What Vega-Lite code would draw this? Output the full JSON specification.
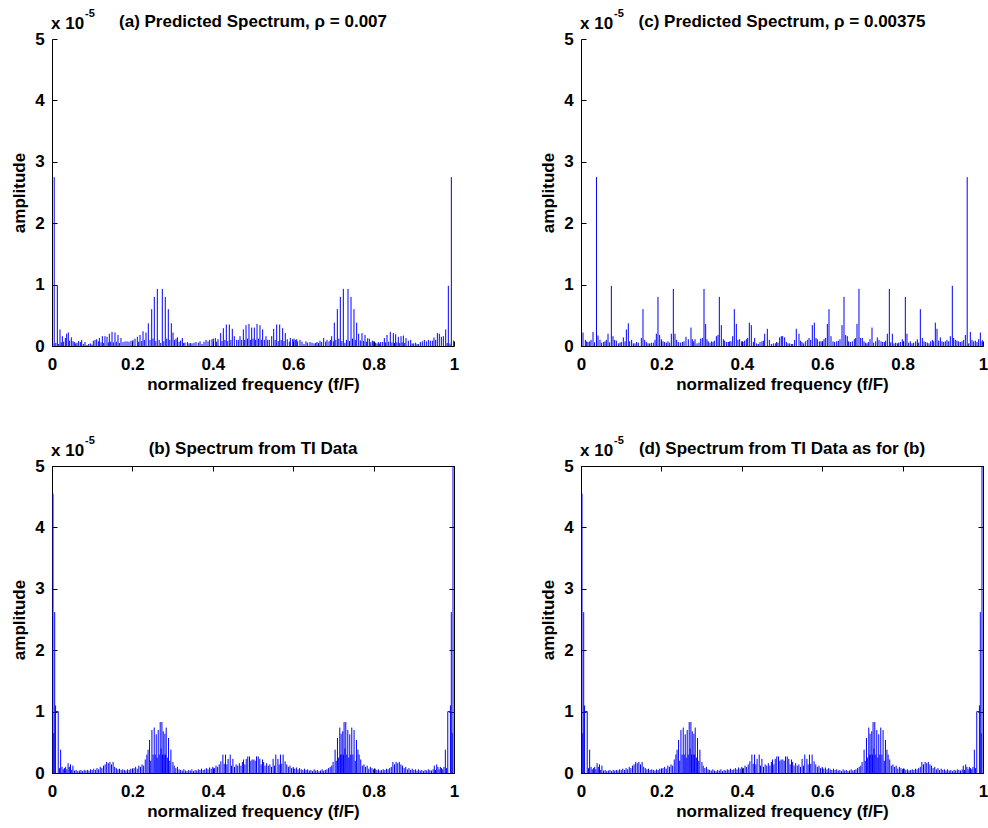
{
  "$schema": "https://vega.github.io/schema/vega-lite/v6.json",
  "background": "white",
  "padding": {"left": 10, "top": 8, "right": 0, "bottom": 5},
  "columns": 2,
  "spacing": {"row": 42, "column": 80},
  "config": {
    "font": "Liberation Sans",
    "view": {"stroke": null},
    "axis": {
      "domainColor": "#000000", "domainWidth": 1, "tickColor": "#000000", "tickWidth": 1, "tickSize": -5,
      "grid": false, "labelFontSize": 17, "labelFontWeight": "bold", "labelColor": "#000000",
      "titleFontSize": 17, "titleFontWeight": "bold", "titleColor": "#000000",
      "labelFlush": false, "labelOverlap": false
    },
    "axisX": {"labelPadding": 15.5, "titlePadding": 4},
    "axisY": {"labelPadding": 12.7, "titlePadding": 6},
    "title": {"fontSize": 17, "fontWeight": "bold", "color": "#000000", "anchor": "middle", "frame": "group", "baseline": "alphabetic", "offset": -23}
  },
  "datasets": {
    "a": [
{"f":0.002,"a":0.04},{"f":0.0055,"a":2.75},{"f":0.0095,"a":0.05},{"f":0.0133,"a":0.98},{"f":0.0166,"a":0.033},{"f":0.0199,"a":0.27},{"f":0.023,"a":0.06},{"f":0.0257,"a":0.16},{"f":0.029,"a":0.07},{"f":0.0332,"a":0.13},{"f":0.0365,"a":0.2},{"f":0.0406,"a":0.22},{"f":0.0439,"a":0.087},{"f":0.0481,"a":0.14},{"f":0.0522,"a":0.08},{"f":0.0555,"a":0.065},{"f":0.0589,"a":0.043},{"f":0.0622,"a":0.054},{"f":0.0663,"a":0.08},{"f":0.0705,"a":0.065},{"f":0.0738,"a":0.1},{"f":0.0779,"a":0.033},{"f":0.0821,"a":0.065},{"f":0.0871,"a":0.016},{"f":0.0912,"a":0.033},{"f":0.0954,"a":0.043},{"f":0.0995,"a":0.022},{"f":0.1028,"a":0.087},{"f":0.107,"a":0.1},{"f":0.1111,"a":0.11},{"f":0.1153,"a":0.076},{"f":0.1178,"a":0.13},{"f":0.1219,"a":0.06},{"f":0.1252,"a":0.16},{"f":0.1285,"a":0.05},{"f":0.1318,"a":0.16},{"f":0.1368,"a":0.15},{"f":0.1401,"a":0.06},{"f":0.1426,"a":0.2},{"f":0.146,"a":0.07},{"f":0.1493,"a":0.23},{"f":0.1526,"a":0.06},{"f":0.1567,"a":0.22},{"f":0.16,"a":0.07},{"f":0.1642,"a":0.18},{"f":0.1675,"a":0.05},{"f":0.1716,"a":0.13},{"f":0.1766,"a":0.065},{"f":0.1816,"a":0.076},{"f":0.1866,"a":0.076},{"f":0.1915,"a":0.07},{"f":0.1965,"a":0.087},{"f":0.2015,"a":0.1},{"f":0.2065,"a":0.12},{"f":0.2123,"a":0.15},{"f":0.2156,"a":0.07},{"f":0.2189,"a":0.18},{"f":0.2231,"a":0.08},{"f":0.2264,"a":0.24},{"f":0.2297,"a":0.1},{"f":0.2338,"a":0.22},{"f":0.2396,"a":0.37},{"f":0.2438,"a":0.1},{"f":0.248,"a":0.6},{"f":0.2512,"a":0.12},{"f":0.2545,"a":0.8},{"f":0.2583,"a":0.08},{"f":0.262,"a":0.93},{"f":0.2665,"a":0.1},{"f":0.2705,"a":0.05},{"f":0.2744,"a":0.93},{"f":0.2781,"a":0.08},{"f":0.2818,"a":0.8},{"f":0.2855,"a":0.12},{"f":0.2893,"a":0.6},{"f":0.293,"a":0.1},{"f":0.2968,"a":0.37},{"f":0.301,"a":0.22},{"f":0.3045,"a":0.1},{"f":0.3085,"a":0.12},{"f":0.312,"a":0.14},{"f":0.316,"a":0.07},{"f":0.32,"a":0.09},{"f":0.3242,"a":0.13},{"f":0.3275,"a":0.05},{"f":0.3308,"a":0.054},{"f":0.3367,"a":0.065},{"f":0.3408,"a":0.043},{"f":0.3441,"a":0.05},{"f":0.3483,"a":0.043},{"f":0.3532,"a":0.054},{"f":0.3582,"a":0.065},{"f":0.364,"a":0.054},{"f":0.3682,"a":0.076},{"f":0.3731,"a":0.033},{"f":0.3781,"a":0.07},{"f":0.3831,"a":0.1},{"f":0.3881,"a":0.076},{"f":0.3922,"a":0.1},{"f":0.398,"a":0.11},{"f":0.4013,"a":0.12},{"f":0.4063,"a":0.13},{"f":0.4096,"a":0.07},{"f":0.413,"a":0.11},{"f":0.4196,"a":0.21},{"f":0.4229,"a":0.08},{"f":0.4262,"a":0.29},{"f":0.43,"a":0.1},{"f":0.4336,"a":0.35},{"f":0.4373,"a":0.08},{"f":0.4411,"a":0.35},{"f":0.445,"a":0.1},{"f":0.4485,"a":0.28},{"f":0.4535,"a":0.16},{"f":0.4594,"a":0.1},{"f":0.4635,"a":0.1},{"f":0.4677,"a":0.16},{"f":0.4718,"a":0.1},{"f":0.476,"a":0.27},{"f":0.4793,"a":0.1},{"f":0.4827,"a":0.34},{"f":0.4865,"a":0.12},{"f":0.49,"a":0.36},{"f":0.4935,"a":0.1},{"f":0.4967,"a":0.3},{"f":0.5,"a":0.12},{"f":0.5033,"a":0.3},{"f":0.5065,"a":0.1},{"f":0.51,"a":0.36},{"f":0.5135,"a":0.12},{"f":0.5173,"a":0.34},{"f":0.5207,"a":0.1},{"f":0.524,"a":0.27},{"f":0.5282,"a":0.1},{"f":0.5323,"a":0.16},{"f":0.5365,"a":0.1},{"f":0.5406,"a":0.1},{"f":0.5465,"a":0.16},{"f":0.5515,"a":0.28},{"f":0.555,"a":0.1},{"f":0.5589,"a":0.35},{"f":0.5627,"a":0.08},{"f":0.5664,"a":0.35},{"f":0.57,"a":0.1},{"f":0.5738,"a":0.29},{"f":0.5771,"a":0.08},{"f":0.5804,"a":0.21},{"f":0.5852,"a":0.11},{"f":0.5904,"a":0.07},{"f":0.5929,"a":0.13},{"f":0.5987,"a":0.11},{"f":0.602,"a":0.12},{"f":0.6053,"a":0.1},{"f":0.6087,"a":0.11},{"f":0.6111,"a":0.076},{"f":0.6169,"a":0.1},{"f":0.6219,"a":0.07},{"f":0.6269,"a":0.033},{"f":0.6318,"a":0.076},{"f":0.636,"a":0.054},{"f":0.6418,"a":0.065},{"f":0.6468,"a":0.054},{"f":0.6517,"a":0.043},{"f":0.6559,"a":0.05},{"f":0.6592,"a":0.065},{"f":0.663,"a":0.05},{"f":0.6667,"a":0.087},{"f":0.6708,"a":0.065},{"f":0.6758,"a":0.13},{"f":0.6808,"a":0.07},{"f":0.6841,"a":0.1},{"f":0.6891,"a":0.076},{"f":0.6924,"a":0.1},{"f":0.6957,"a":0.16},{"f":0.6998,"a":0.076},{"f":0.7023,"a":0.38},{"f":0.706,"a":0.1},{"f":0.7098,"a":0.6},{"f":0.7135,"a":0.12},{"f":0.7172,"a":0.8},{"f":0.721,"a":0.08},{"f":0.7247,"a":0.93},{"f":0.7285,"a":0.05},{"f":0.7325,"a":0.1},{"f":0.7363,"a":0.93},{"f":0.74,"a":0.08},{"f":0.7438,"a":0.8},{"f":0.7475,"a":0.12},{"f":0.7512,"a":0.6},{"f":0.7545,"a":0.1},{"f":0.7579,"a":0.38},{"f":0.7629,"a":0.2},{"f":0.767,"a":0.09},{"f":0.7711,"a":0.21},{"f":0.775,"a":0.08},{"f":0.7786,"a":0.18},{"f":0.782,"a":0.07},{"f":0.7852,"a":0.125},{"f":0.7894,"a":0.12},{"f":0.793,"a":0.06},{"f":0.7968,"a":0.087},{"f":0.8002,"a":0.076},{"f":0.8051,"a":0.054},{"f":0.8085,"a":0.04},{"f":0.8118,"a":0.065},{"f":0.815,"a":0.04},{"f":0.8176,"a":0.065},{"f":0.8226,"a":0.065},{"f":0.8267,"a":0.13},{"f":0.83,"a":0.06},{"f":0.8333,"a":0.18},{"f":0.8375,"a":0.07},{"f":0.8416,"a":0.23},{"f":0.8455,"a":0.06},{"f":0.8491,"a":0.21},{"f":0.852,"a":0.05},{"f":0.8549,"a":0.19},{"f":0.858,"a":0.06},{"f":0.8615,"a":0.15},{"f":0.865,"a":0.05},{"f":0.8682,"a":0.16},{"f":0.871,"a":0.06},{"f":0.874,"a":0.17},{"f":0.8775,"a":0.05},{"f":0.8806,"a":0.13},{"f":0.8864,"a":0.087},{"f":0.8922,"a":0.1},{"f":0.896,"a":0.04},{"f":0.8997,"a":0.043},{"f":0.9046,"a":0.054},{"f":0.908,"a":0.03},{"f":0.9113,"a":0.033},{"f":0.9163,"a":0.065},{"f":0.9212,"a":0.076},{"f":0.9262,"a":0.1},{"f":0.9312,"a":0.076},{"f":0.9362,"a":0.1},{"f":0.9411,"a":0.087},{"f":0.9461,"a":0.087},{"f":0.9502,"a":0.14},{"f":0.9544,"a":0.1},{"f":0.9586,"a":0.21},{"f":0.9635,"a":0.2},{"f":0.9685,"a":0.15},{"f":0.9735,"a":0.16},{"f":0.9793,"a":0.27},{"f":0.983,"a":0.05},{"f":0.9859,"a":0.98},{"f":0.99,"a":0.04},{"f":0.9934,"a":2.75},{"f":0.9992,"a":0.09}
    ],
    "c": [
{"f":0.005,"a":0.22},{"f":0.0108,"a":0.1},{"f":0.0141,"a":0.076},{"f":0.0174,"a":0.065},{"f":0.0216,"a":0.076},{"f":0.0249,"a":0.1},{"f":0.0299,"a":0.23},{"f":0.0335,"a":0.06},{"f":0.0385,"a":2.75},{"f":0.0423,"a":0.17},{"f":0.0473,"a":0.1},{"f":0.0514,"a":0.054},{"f":0.0564,"a":0.065},{"f":0.0597,"a":0.076},{"f":0.063,"a":0.1},{"f":0.0672,"a":0.2},{"f":0.0713,"a":0.06},{"f":0.0755,"a":0.98},{"f":0.0796,"a":0.16},{"f":0.0837,"a":0.1},{"f":0.0879,"a":0.087},{"f":0.0929,"a":0.043},{"f":0.097,"a":0.054},{"f":0.1003,"a":0.065},{"f":0.1053,"a":0.14},{"f":0.1095,"a":0.076},{"f":0.1128,"a":0.27},{"f":0.1177,"a":0.37},{"f":0.1211,"a":0.076},{"f":0.126,"a":0.1},{"f":0.1302,"a":0.043},{"f":0.1343,"a":0.043},{"f":0.1385,"a":0.065},{"f":0.1426,"a":0.054},{"f":0.1501,"a":0.13},{"f":0.1542,"a":0.6},{"f":0.1584,"a":0.1},{"f":0.1625,"a":0.065},{"f":0.1667,"a":0.043},{"f":0.1708,"a":0.043},{"f":0.175,"a":0.054},{"f":0.1799,"a":0.054},{"f":0.1841,"a":0.1},{"f":0.1874,"a":0.2},{"f":0.1915,"a":0.8},{"f":0.1957,"a":0.18},{"f":0.1998,"a":0.11},{"f":0.204,"a":0.076},{"f":0.2081,"a":0.065},{"f":0.2123,"a":0.054},{"f":0.2164,"a":0.076},{"f":0.2206,"a":0.054},{"f":0.2247,"a":0.2},{"f":0.2297,"a":0.93},{"f":0.2338,"a":0.2},{"f":0.238,"a":0.1},{"f":0.2421,"a":0.065},{"f":0.2471,"a":0.054},{"f":0.2521,"a":0.065},{"f":0.2562,"a":0.076},{"f":0.2612,"a":0.15},{"f":0.267,"a":0.11},{"f":0.2736,"a":0.3},{"f":0.2769,"a":0.11},{"f":0.2803,"a":0.076},{"f":0.2836,"a":0.11},{"f":0.2886,"a":0.043},{"f":0.2935,"a":0.054},{"f":0.2977,"a":0.12},{"f":0.3018,"a":0.13},{"f":0.306,"a":0.93},{"f":0.3101,"a":0.36},{"f":0.3134,"a":0.11},{"f":0.3167,"a":0.076},{"f":0.3209,"a":0.054},{"f":0.325,"a":0.076},{"f":0.3284,"a":0.065},{"f":0.3317,"a":0.087},{"f":0.3367,"a":0.16},{"f":0.3408,"a":0.18},{"f":0.3441,"a":0.8},{"f":0.3491,"a":0.34},{"f":0.3541,"a":0.11},{"f":0.3574,"a":0.087},{"f":0.3624,"a":0.065},{"f":0.3665,"a":0.065},{"f":0.3698,"a":0.076},{"f":0.3731,"a":0.076},{"f":0.3773,"a":0.16},{"f":0.3814,"a":0.6},{"f":0.3864,"a":0.36},{"f":0.3905,"a":0.1},{"f":0.3947,"a":0.11},{"f":0.3997,"a":0.076},{"f":0.403,"a":0.065},{"f":0.4071,"a":0.087},{"f":0.4113,"a":0.11},{"f":0.4146,"a":0.13},{"f":0.4187,"a":0.38},{"f":0.4237,"a":0.34},{"f":0.4287,"a":0.065},{"f":0.432,"a":0.13},{"f":0.437,"a":0.043},{"f":0.4411,"a":0.033},{"f":0.4453,"a":0.065},{"f":0.4502,"a":0.076},{"f":0.4536,"a":0.087},{"f":0.4569,"a":0.2},{"f":0.4635,"a":0.28},{"f":0.4685,"a":0.1},{"f":0.4735,"a":0.033},{"f":0.4784,"a":0.043},{"f":0.4834,"a":0.043},{"f":0.4867,"a":0.065},{"f":0.49,"a":0.054},{"f":0.4942,"a":0.14},{"f":0.4983,"a":0.16},{"f":0.5017,"a":0.16},{"f":0.5066,"a":0.14},{"f":0.5108,"a":0.065},{"f":0.5149,"a":0.043},{"f":0.5191,"a":0.043},{"f":0.5232,"a":0.033},{"f":0.5265,"a":0.033},{"f":0.5315,"a":0.1},{"f":0.5356,"a":0.28},{"f":0.5423,"a":0.2},{"f":0.5464,"a":0.087},{"f":0.5498,"a":0.065},{"f":0.5539,"a":0.043},{"f":0.558,"a":0.076},{"f":0.563,"a":0.1},{"f":0.5672,"a":0.13},{"f":0.5713,"a":0.1},{"f":0.5754,"a":0.34},{"f":0.5804,"a":0.38},{"f":0.5846,"a":0.13},{"f":0.5879,"a":0.11},{"f":0.5929,"a":0.076},{"f":0.597,"a":0.076},{"f":0.6003,"a":0.076},{"f":0.6045,"a":0.11},{"f":0.6086,"a":0.13},{"f":0.6128,"a":0.36},{"f":0.6169,"a":0.6},{"f":0.6219,"a":0.16},{"f":0.6269,"a":0.076},{"f":0.631,"a":0.065},{"f":0.636,"a":0.076},{"f":0.6401,"a":0.087},{"f":0.6443,"a":0.11},{"f":0.6493,"a":0.34},{"f":0.6542,"a":0.8},{"f":0.6584,"a":0.18},{"f":0.6625,"a":0.16},{"f":0.6658,"a":0.076},{"f":0.67,"a":0.065},{"f":0.675,"a":0.076},{"f":0.6799,"a":0.11},{"f":0.6833,"a":0.13},{"f":0.6866,"a":0.36},{"f":0.6915,"a":0.93},{"f":0.6957,"a":0.13},{"f":0.6998,"a":0.13},{"f":0.704,"a":0.076},{"f":0.7081,"a":0.054},{"f":0.7114,"a":0.043},{"f":0.7148,"a":0.065},{"f":0.7189,"a":0.11},{"f":0.7239,"a":0.3},{"f":0.728,"a":0.054},{"f":0.733,"a":0.076},{"f":0.7371,"a":0.14},{"f":0.7413,"a":0.1},{"f":0.7463,"a":0.076},{"f":0.7504,"a":0.065},{"f":0.7546,"a":0.065},{"f":0.7579,"a":0.087},{"f":0.762,"a":0.2},{"f":0.767,"a":0.93},{"f":0.7705,"a":0.06},{"f":0.7745,"a":0.2},{"f":0.7786,"a":0.043},{"f":0.7828,"a":0.054},{"f":0.7869,"a":0.043},{"f":0.7902,"a":0.054},{"f":0.7944,"a":0.065},{"f":0.7993,"a":0.11},{"f":0.8027,"a":0.076},{"f":0.8068,"a":0.8},{"f":0.8109,"a":0.2},{"f":0.8151,"a":0.054},{"f":0.8192,"a":0.076},{"f":0.8234,"a":0.043},{"f":0.8275,"a":0.054},{"f":0.8325,"a":0.076},{"f":0.8367,"a":0.11},{"f":0.84,"a":0.054},{"f":0.8441,"a":0.6},{"f":0.8491,"a":0.13},{"f":0.8532,"a":0.076},{"f":0.8574,"a":0.065},{"f":0.8615,"a":0.054},{"f":0.8657,"a":0.043},{"f":0.8698,"a":0.076},{"f":0.874,"a":0.1},{"f":0.8773,"a":0.076},{"f":0.8814,"a":0.38},{"f":0.8856,"a":0.28},{"f":0.8897,"a":0.087},{"f":0.8939,"a":0.14},{"f":0.898,"a":0.076},{"f":0.9022,"a":0.065},{"f":0.9063,"a":0.076},{"f":0.9104,"a":0.1},{"f":0.9146,"a":0.076},{"f":0.9187,"a":0.16},{"f":0.9237,"a":0.98},{"f":0.927,"a":0.13},{"f":0.9312,"a":0.1},{"f":0.9353,"a":0.087},{"f":0.9395,"a":0.076},{"f":0.9436,"a":0.065},{"f":0.9478,"a":0.076},{"f":0.9519,"a":0.1},{"f":0.9561,"a":0.18},{"f":0.9607,"a":2.75},{"f":0.9644,"a":0.043},{"f":0.9685,"a":0.23},{"f":0.9726,"a":0.1},{"f":0.9768,"a":0.076},{"f":0.9809,"a":0.087},{"f":0.9851,"a":0.065},{"f":0.9892,"a":0.11},{"f":0.9934,"a":0.22},{"f":0.9975,"a":0.076},{"f":0.9995,"a":0.1}
    ],
    "b": [
{"f":0.0025,"a":4.55},{"f":0.0045,"a":0.65},{"f":0.0067,"a":2.62},{"f":0.0089,"a":1.1},{"f":0.0155,"a":1.0},{"f":0.0185,"a":0.08},{"f":0.0215,"a":0.38},{"f":0.025,"a":0.1},{"f":0.028,"a":0.06},{"f":0.031,"a":0.08},{"f":0.034,"a":0.1},{"f":0.037,"a":0.06},{"f":0.04,"a":0.16},{"f":0.043,"a":0.1},{"f":0.046,"a":0.14},{"f":0.049,"a":0.05},{"f":0.052,"a":0.12},{"f":0.056,"a":0.04},{"f":0.06,"a":0.05},{"f":0.064,"a":0.03},{"f":0.068,"a":0.04},{"f":0.072,"a":0.05},{"f":0.076,"a":0.03},{"f":0.08,"a":0.05},{"f":0.084,"a":0.04},{"f":0.088,"a":0.05},{"f":0.092,"a":0.04},{"f":0.096,"a":0.06},{"f":0.1,"a":0.05},{"f":0.104,"a":0.07},{"f":0.108,"a":0.05},{"f":0.112,"a":0.08},{"f":0.116,"a":0.06},{"f":0.12,"a":0.1},{"f":0.124,"a":0.08},{"f":0.128,"a":0.12},{"f":0.132,"a":0.14},{"f":0.136,"a":0.18},{"f":0.14,"a":0.16},{"f":0.144,"a":0.18},{"f":0.148,"a":0.14},{"f":0.152,"a":0.18},{"f":0.156,"a":0.1},{"f":0.16,"a":0.08},{"f":0.164,"a":0.06},{"f":0.168,"a":0.07},{"f":0.172,"a":0.05},{"f":0.176,"a":0.06},{"f":0.18,"a":0.05},{"f":0.184,"a":0.04},{"f":0.188,"a":0.06},{"f":0.192,"a":0.05},{"f":0.196,"a":0.07},{"f":0.2,"a":0.06},{"f":0.204,"a":0.08},{"f":0.208,"a":0.1},{"f":0.212,"a":0.07},{"f":0.216,"a":0.12},{"f":0.22,"a":0.1},{"f":0.224,"a":0.14},{"f":0.228,"a":0.12},{"f":0.232,"a":0.22},{"f":0.236,"a":0.3},{"f":0.239,"a":0.38},{"f":0.2427,"a":0.54},{"f":0.2456,"a":0.2},{"f":0.2486,"a":0.7},{"f":0.2515,"a":0.3},{"f":0.2543,"a":0.74},{"f":0.2568,"a":0.3},{"f":0.2593,"a":0.63},{"f":0.2617,"a":0.25},{"f":0.2642,"a":0.7},{"f":0.2667,"a":0.3},{"f":0.2692,"a":0.83},{"f":0.2713,"a":0.4},{"f":0.2734,"a":0.83},{"f":0.275,"a":0.3},{"f":0.2767,"a":0.68},{"f":0.279,"a":0.3},{"f":0.2809,"a":0.64},{"f":0.2825,"a":0.3},{"f":0.2841,"a":0.74},{"f":0.287,"a":0.25},{"f":0.2899,"a":0.57},{"f":0.293,"a":0.2},{"f":0.2958,"a":0.38},{"f":0.3008,"a":0.18},{"f":0.304,"a":0.12},{"f":0.308,"a":0.08},{"f":0.312,"a":0.1},{"f":0.316,"a":0.06},{"f":0.32,"a":0.05},{"f":0.324,"a":0.04},{"f":0.328,"a":0.06},{"f":0.332,"a":0.04},{"f":0.336,"a":0.03},{"f":0.34,"a":0.05},{"f":0.344,"a":0.04},{"f":0.348,"a":0.06},{"f":0.352,"a":0.03},{"f":0.356,"a":0.05},{"f":0.36,"a":0.04},{"f":0.364,"a":0.06},{"f":0.368,"a":0.05},{"f":0.372,"a":0.07},{"f":0.376,"a":0.05},{"f":0.38,"a":0.06},{"f":0.384,"a":0.08},{"f":0.388,"a":0.06},{"f":0.392,"a":0.09},{"f":0.396,"a":0.07},{"f":0.4,"a":0.1},{"f":0.404,"a":0.08},{"f":0.408,"a":0.12},{"f":0.412,"a":0.1},{"f":0.416,"a":0.14},{"f":0.4201,"a":0.19},{"f":0.4251,"a":0.3},{"f":0.4284,"a":0.15},{"f":0.4317,"a":0.3},{"f":0.435,"a":0.14},{"f":0.438,"a":0.23},{"f":0.4433,"a":0.3},{"f":0.4466,"a":0.12},{"f":0.45,"a":0.23},{"f":0.454,"a":0.1},{"f":0.458,"a":0.14},{"f":0.462,"a":0.12},{"f":0.466,"a":0.16},{"f":0.47,"a":0.12},{"f":0.4735,"a":0.18},{"f":0.4764,"a":0.22},{"f":0.4798,"a":0.14},{"f":0.4831,"a":0.23},{"f":0.487,"a":0.27},{"f":0.4913,"a":0.27},{"f":0.4946,"a":0.2},{"f":0.4979,"a":0.22},{"f":0.5021,"a":0.22},{"f":0.5054,"a":0.2},{"f":0.5087,"a":0.27},{"f":0.513,"a":0.27},{"f":0.5169,"a":0.23},{"f":0.5202,"a":0.14},{"f":0.5236,"a":0.22},{"f":0.5265,"a":0.18},{"f":0.53,"a":0.12},{"f":0.534,"a":0.16},{"f":0.538,"a":0.12},{"f":0.542,"a":0.14},{"f":0.546,"a":0.1},{"f":0.55,"a":0.23},{"f":0.5534,"a":0.12},{"f":0.5567,"a":0.3},{"f":0.562,"a":0.23},{"f":0.565,"a":0.14},{"f":0.5683,"a":0.3},{"f":0.5716,"a":0.15},{"f":0.5749,"a":0.3},{"f":0.5799,"a":0.19},{"f":0.584,"a":0.14},{"f":0.588,"a":0.1},{"f":0.592,"a":0.12},{"f":0.596,"a":0.08},{"f":0.6,"a":0.1},{"f":0.604,"a":0.07},{"f":0.608,"a":0.09},{"f":0.612,"a":0.06},{"f":0.616,"a":0.08},{"f":0.62,"a":0.06},{"f":0.624,"a":0.05},{"f":0.628,"a":0.07},{"f":0.632,"a":0.05},{"f":0.636,"a":0.06},{"f":0.64,"a":0.04},{"f":0.644,"a":0.05},{"f":0.648,"a":0.03},{"f":0.652,"a":0.06},{"f":0.656,"a":0.04},{"f":0.66,"a":0.05},{"f":0.664,"a":0.03},{"f":0.668,"a":0.04},{"f":0.672,"a":0.06},{"f":0.676,"a":0.04},{"f":0.68,"a":0.05},{"f":0.684,"a":0.06},{"f":0.688,"a":0.08},{"f":0.692,"a":0.1},{"f":0.696,"a":0.12},{"f":0.6992,"a":0.18},{"f":0.7042,"a":0.38},{"f":0.707,"a":0.2},{"f":0.7101,"a":0.57},{"f":0.713,"a":0.25},{"f":0.7159,"a":0.74},{"f":0.7175,"a":0.3},{"f":0.7191,"a":0.64},{"f":0.721,"a":0.3},{"f":0.7233,"a":0.68},{"f":0.725,"a":0.3},{"f":0.7266,"a":0.83},{"f":0.7287,"a":0.4},{"f":0.7308,"a":0.83},{"f":0.7333,"a":0.3},{"f":0.7358,"a":0.7},{"f":0.7383,"a":0.25},{"f":0.7407,"a":0.63},{"f":0.7432,"a":0.3},{"f":0.7457,"a":0.74},{"f":0.7485,"a":0.3},{"f":0.7514,"a":0.7},{"f":0.7544,"a":0.2},{"f":0.7573,"a":0.54},{"f":0.761,"a":0.38},{"f":0.764,"a":0.3},{"f":0.768,"a":0.22},{"f":0.772,"a":0.12},{"f":0.776,"a":0.14},{"f":0.78,"a":0.1},{"f":0.784,"a":0.12},{"f":0.788,"a":0.07},{"f":0.792,"a":0.1},{"f":0.796,"a":0.08},{"f":0.8,"a":0.06},{"f":0.804,"a":0.07},{"f":0.808,"a":0.05},{"f":0.812,"a":0.06},{"f":0.816,"a":0.04},{"f":0.82,"a":0.05},{"f":0.824,"a":0.06},{"f":0.828,"a":0.05},{"f":0.832,"a":0.07},{"f":0.836,"a":0.06},{"f":0.84,"a":0.08},{"f":0.844,"a":0.1},{"f":0.848,"a":0.18},{"f":0.852,"a":0.14},{"f":0.856,"a":0.18},{"f":0.86,"a":0.16},{"f":0.864,"a":0.18},{"f":0.868,"a":0.14},{"f":0.872,"a":0.12},{"f":0.876,"a":0.08},{"f":0.88,"a":0.1},{"f":0.884,"a":0.06},{"f":0.888,"a":0.08},{"f":0.892,"a":0.05},{"f":0.896,"a":0.07},{"f":0.9,"a":0.05},{"f":0.904,"a":0.06},{"f":0.908,"a":0.04},{"f":0.912,"a":0.06},{"f":0.916,"a":0.04},{"f":0.92,"a":0.05},{"f":0.924,"a":0.03},{"f":0.928,"a":0.05},{"f":0.932,"a":0.04},{"f":0.936,"a":0.06},{"f":0.94,"a":0.05},{"f":0.944,"a":0.04},{"f":0.948,"a":0.06},{"f":0.951,"a":0.12},{"f":0.954,"a":0.05},{"f":0.957,"a":0.14},{"f":0.96,"a":0.1},{"f":0.963,"a":0.06},{"f":0.966,"a":0.1},{"f":0.969,"a":0.08},{"f":0.972,"a":0.06},{"f":0.975,"a":0.1},{"f":0.9785,"a":0.38},{"f":0.9815,"a":0.08},{"f":0.9845,"a":1.0},{"f":0.9911,"a":1.1},{"f":0.9933,"a":2.62},{"f":0.9955,"a":0.65},{"f":0.9975,"a":5.5}
    ],
    "bh": [{"f":0.0089,"f2":0.0155,"a":1.0},{"f":0.9845,"f2":0.9911,"a":1.0}]
  },
  "concat": [
    {
      "width": 402, "height": 307,
      "title": {"text": "(a) Predicted Spectrum, ρ = 0.007"},
      "resolve": {"axis": {"x": "independent", "y": "independent"}},
      "layer": [
        {"data": {"name": "a"}, "mark": {"type": "rule", "color": "#0000ff", "strokeWidth": 1, "clip": true},
         "encoding": {
           "x": {"field": "f", "type": "quantitative", "scale": {"domain": [0, 1], "nice": false, "zero": false}, "axis": {"values": [0, 0.2, 0.4, 0.6, 0.8, 1], "format": "~g", "title": "normalized frequency (f/F)"}},
           "y": {"field": "a", "type": "quantitative", "scale": {"domain": [0, 5], "nice": false}, "axis": {"values": [0, 1, 2, 3, 4, 5], "title": "amplitude"}},
           "y2": {"datum": 0}}},
        {"data": {"values": [{"t": "x 10"}]}, "mark": {"type": "text", "align": "left", "baseline": "alphabetic", "dx": -1, "dy": -10, "fontSize": 17, "fontWeight": "bold", "color": "#000000"},
         "encoding": {"x": {"datum": 0, "type": "quantitative", "axis": null}, "y": {"datum": 5, "type": "quantitative", "axis": null}, "text": {"field": "t"}}},
        {"data": {"values": [{"t": "-5"}]}, "mark": {"type": "text", "align": "left", "baseline": "alphabetic", "dx": 33, "dy": -22, "fontSize": 11, "fontWeight": "bold", "color": "#000000"},
         "encoding": {"x": {"datum": 0, "type": "quantitative", "axis": null}, "y": {"datum": 5, "type": "quantitative", "axis": null}, "text": {"field": "t"}}}
      ]
    },
    {
      "width": 402, "height": 307,
      "title": {"text": "(c) Predicted Spectrum, ρ = 0.00375"},
      "resolve": {"axis": {"x": "independent", "y": "independent"}},
      "layer": [
        {"data": {"name": "c"}, "mark": {"type": "rule", "color": "#0000ff", "strokeWidth": 1, "clip": true},
         "encoding": {
           "x": {"field": "f", "type": "quantitative", "scale": {"domain": [0, 1], "nice": false, "zero": false}, "axis": {"values": [0, 0.2, 0.4, 0.6, 0.8, 1], "format": "~g", "title": "normalized frequency (f/F)"}},
           "y": {"field": "a", "type": "quantitative", "scale": {"domain": [0, 5], "nice": false}, "axis": {"values": [0, 1, 2, 3, 4, 5], "title": "amplitude"}},
           "y2": {"datum": 0}}},
        {"data": {"values": [{"t": "x 10"}]}, "mark": {"type": "text", "align": "left", "baseline": "alphabetic", "dx": -1, "dy": -10, "fontSize": 17, "fontWeight": "bold", "color": "#000000"},
         "encoding": {"x": {"datum": 0, "type": "quantitative", "axis": null}, "y": {"datum": 5, "type": "quantitative", "axis": null}, "text": {"field": "t"}}},
        {"data": {"values": [{"t": "-5"}]}, "mark": {"type": "text", "align": "left", "baseline": "alphabetic", "dx": 33, "dy": -22, "fontSize": 11, "fontWeight": "bold", "color": "#000000"},
         "encoding": {"x": {"datum": 0, "type": "quantitative", "axis": null}, "y": {"datum": 5, "type": "quantitative", "axis": null}, "text": {"field": "t"}}}
      ]
    },
    {
      "width": 402, "height": 307,
      "title": {"text": "(b) Spectrum from TI Data"},
      "resolve": {"axis": {"x": "independent", "y": "independent"}},
      "layer": [
        {"data": {"name": "b"}, "mark": {"type": "rule", "color": "#0000ff", "strokeWidth": 1, "clip": true},
         "encoding": {
           "x": {"field": "f", "type": "quantitative", "scale": {"domain": [0, 1], "nice": false, "zero": false}, "axis": {"values": [0, 0.2, 0.4, 0.6, 0.8, 1], "format": "~g", "title": "normalized frequency (f/F)"}},
           "y": {"field": "a", "type": "quantitative", "scale": {"domain": [0, 5], "nice": false}, "axis": {"values": [0, 1, 2, 3, 4, 5], "title": "amplitude"}},
           "y2": {"datum": 0}}},
        {"data": {"name": "bh"}, "mark": {"type": "rule", "color": "#0000ff", "strokeWidth": 1},
         "encoding": {"x": {"field": "f", "type": "quantitative", "axis": null}, "x2": {"field": "f2"}, "y": {"field": "a", "type": "quantitative", "axis": null}}},
        {"data": {"values": [{"f": 0, "a": 0}]}, "mark": {"type": "point", "opacity": 0},
         "encoding": {
           "x": {"field": "f", "type": "quantitative", "axis": {"orient": "top", "labels": false, "title": null, "values": [0, 0.2, 0.4, 0.6, 0.8, 1]}},
           "y": {"field": "a", "type": "quantitative", "axis": {"orient": "right", "labels": false, "title": null, "values": [0, 1, 2, 3, 4, 5]}}}},
        {"data": {"values": [{"t": "x 10"}]}, "mark": {"type": "text", "align": "left", "baseline": "alphabetic", "dx": -1, "dy": -10, "fontSize": 17, "fontWeight": "bold", "color": "#000000"},
         "encoding": {"x": {"datum": 0, "type": "quantitative", "axis": null}, "y": {"datum": 5, "type": "quantitative", "axis": null}, "text": {"field": "t"}}},
        {"data": {"values": [{"t": "-5"}]}, "mark": {"type": "text", "align": "left", "baseline": "alphabetic", "dx": 33, "dy": -22, "fontSize": 11, "fontWeight": "bold", "color": "#000000"},
         "encoding": {"x": {"datum": 0, "type": "quantitative", "axis": null}, "y": {"datum": 5, "type": "quantitative", "axis": null}, "text": {"field": "t"}}}
      ]
    },
    {
      "width": 402, "height": 307,
      "title": {"text": "(d) Spectrum from TI Data as for (b)"},
      "resolve": {"axis": {"x": "independent", "y": "independent"}},
      "layer": [
        {"data": {"name": "b"}, "mark": {"type": "rule", "color": "#0000ff", "strokeWidth": 1, "clip": true},
         "encoding": {
           "x": {"field": "f", "type": "quantitative", "scale": {"domain": [0, 1], "nice": false, "zero": false}, "axis": {"values": [0, 0.2, 0.4, 0.6, 0.8, 1], "format": "~g", "title": "normalized frequency (f/F)"}},
           "y": {"field": "a", "type": "quantitative", "scale": {"domain": [0, 5], "nice": false}, "axis": {"values": [0, 1, 2, 3, 4, 5], "title": "amplitude"}},
           "y2": {"datum": 0}}},
        {"data": {"name": "bh"}, "mark": {"type": "rule", "color": "#0000ff", "strokeWidth": 1},
         "encoding": {"x": {"field": "f", "type": "quantitative", "axis": null}, "x2": {"field": "f2"}, "y": {"field": "a", "type": "quantitative", "axis": null}}},
        {"data": {"values": [{"f": 0, "a": 0}]}, "mark": {"type": "point", "opacity": 0},
         "encoding": {
           "x": {"field": "f", "type": "quantitative", "axis": {"orient": "top", "labels": false, "title": null, "values": [0, 0.2, 0.4, 0.6, 0.8, 1]}},
           "y": {"field": "a", "type": "quantitative", "axis": {"orient": "right", "labels": false, "title": null, "values": [0, 1, 2, 3, 4, 5]}}}},
        {"data": {"values": [{"t": "x 10"}]}, "mark": {"type": "text", "align": "left", "baseline": "alphabetic", "dx": -1, "dy": -10, "fontSize": 17, "fontWeight": "bold", "color": "#000000"},
         "encoding": {"x": {"datum": 0, "type": "quantitative", "axis": null}, "y": {"datum": 5, "type": "quantitative", "axis": null}, "text": {"field": "t"}}},
        {"data": {"values": [{"t": "-5"}]}, "mark": {"type": "text", "align": "left", "baseline": "alphabetic", "dx": 33, "dy": -22, "fontSize": 11, "fontWeight": "bold", "color": "#000000"},
         "encoding": {"x": {"datum": 0, "type": "quantitative", "axis": null}, "y": {"datum": 5, "type": "quantitative", "axis": null}, "text": {"field": "t"}}}
      ]
    }
  ]
}
